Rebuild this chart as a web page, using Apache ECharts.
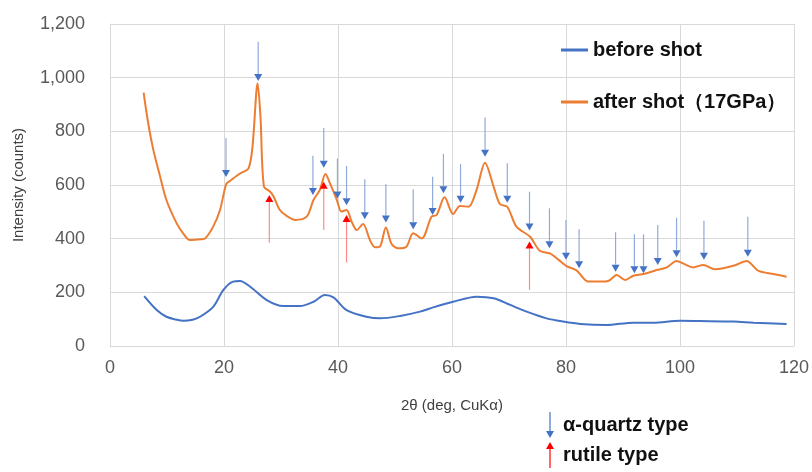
<!DOCTYPE html>
<html>
<head>
<meta charset="utf-8">
<script src="https://cdn.jsdelivr.net/npm/echarts@6/dist/echarts.min.js"></script>
<style>
  html, body { margin: 0; padding: 0; background: #fff; }
  #chart { width: 812px; height: 472px; }
</style>
</head>
<body>
<div id="chart"></div>
<script>
// XRD pattern
const afterX = [5.9, 6.7, 7.6, 8.8, 9.9, 11.7, 12.9, 14.0, 16.0, 16.7, 18.1, 19.3, 20.4, 21.1, 22.8, 24.3, 25.0, 25.9, 26.4, 27.0,
  28.1, 28.7, 29.8, 31.0, 32.5, 34.5, 35.7, 36.8, 37.8, 38.6, 39.8, 40.6, 41.5, 42.4, 43.3, 44.4, 45.6, 46.5, 47.4, 48.4,
  49.4, 50.6, 52.0, 53.2, 54.7, 56.4, 57.3, 58.7, 60.2, 61.4, 62.9, 64.3, 65.8, 67.3, 68.4, 69.7, 71.3, 73.7, 75.4, 77.2,
  78.7, 80.1, 81.9, 83.9, 86.0, 87.4, 88.9, 90.4, 91.8, 93.6, 95.9, 97.7, 99.4, 100.8, 102.3, 104.1, 106.1, 107.6, 109.8, 111.7,
  113.7, 116.4, 118.7];
const afterY = [944, 830, 731, 631, 544, 457, 418, 395, 398, 401, 445, 507, 604, 616, 643, 662, 743, 979, 855, 594,
  575, 557, 507, 485, 470, 482, 544, 581, 641, 606, 544, 501, 507, 463, 432, 455, 395, 368, 372, 442,
  380, 364, 370, 420, 401, 482, 488, 554, 492, 522, 519, 581, 683, 594, 529, 519, 445, 407, 355, 345,
  321, 298, 281, 240, 240, 242, 265, 246, 262, 268, 283, 293, 317, 305, 293, 302, 286, 290, 302, 317,
  281, 268, 258];

const beforeX = [6.0, 8.2, 9.9, 11.5, 12.9, 14.5, 15.8, 18.1, 19.9, 21.6, 22.8, 24.6, 27.5, 30.4, 33.3, 35.7, 37.7, 39.2, 41.5, 45.0,
  47.4, 50.9, 54.4, 56.7, 60.2, 64.3, 67.3, 70.2, 73.1, 76.6, 79.5, 82.5, 87.1, 91.8, 95.3, 100.0, 103.5, 109.4, 112.9, 118.7];
const beforeY = [186, 134, 109, 99, 94, 98, 109, 146, 209, 240, 242, 221, 171, 149, 149, 165, 190, 181, 134, 109,
  103, 112, 128, 144, 165, 184, 178, 153, 128, 103, 91, 82, 78, 87, 87, 94, 93, 91, 87, 82];

// peak markers: position, arrow tail, arrow tip
const quartzX = [20.35, 26.0, 35.6, 37.5, 39.9, 41.5, 44.7, 48.4, 53.2, 56.6, 58.5, 61.5, 65.8, 69.7, 73.6, 77.1, 80.0, 82.3,
  88.7, 92.0, 93.6, 96.1, 99.4, 104.2, 111.9];
const quartzTail = [775, 1134, 709, 812, 699, 671, 621, 603, 584, 631, 716, 678, 852, 681, 575, 513, 470, 435,
  424, 416, 416, 451, 478, 467, 482];
const quartzTip = [630, 988, 563, 664, 550, 525, 472, 460, 435, 488, 569, 534, 705, 534, 430, 364, 321, 290,
  277, 271, 271, 302, 331, 321, 333];

const rutileX = [27.95, 37.5, 41.5, 73.6];
const rutileTail = [385, 432, 311, 209];
const rutileTip = [563, 612, 488, 389];

const xTicks = { min: 0, max: 120, interval: 20 };
const yTicks = { min: 0, max: 1200, interval: 200 };

const zip = (xs, ys) => xs.map((x, i) => [x, ys[i]]);
const arrows = (xs, tails, tips) => xs.map((x, i) => [x, tails[i], tips[i]]);

function arrowItem(lineColor, headColor) {
  return function (params, api) {
    const x = api.value(0);
    const tail = api.coord([x, api.value(1)]);
    const tip = api.coord([x, api.value(2)]);
    const dir = tip[1] > tail[1] ? 1 : -1;
    const headH = 7;
    const headW = 4;
    return {
      type: 'group',
      children: [
        {
          type: 'line',
          shape: { x1: tail[0], y1: tail[1], x2: tip[0], y2: tip[1] - dir * headH },
          style: { stroke: lineColor, lineWidth: 1.2 },
        },
        {
          type: 'polygon',
          shape: {
            points: [
              [tip[0], tip[1]],
              [tip[0] - headW, tip[1] - dir * headH],
              [tip[0] + headW, tip[1] - dir * headH],
            ],
          },
          style: { fill: headColor },
        },
      ],
    };
  };
}

const labelFont = 'Liberation Sans, Arial, sans-serif';
const lineIcon = 'path://M0,0 H27 V3 H0 Z';

const option = {
  animation: false,
  backgroundColor: '#fff',
  grid: { left: 110, right: 18, top: 24, bottom: 126 },
  legend: [
    {
      data: [
        { name: 'before shot', icon: lineIcon },
        { name: 'after shot（17GPa）', icon: lineIcon },
      ],
      orient: 'vertical',
      left: 561,
      top: 40,
      padding: 0,
      itemWidth: 27,
      itemHeight: 3,
      itemGap: 32,
      textStyle: { fontFamily: labelFont, fontSize: 20, fontWeight: 'bold', color: '#111', lineHeight: 20 },
    },
    {
      data: [
        { name: 'α-quartz type', icon: 'path://M3.4,0 H4.6 V19 H8 L4,26 L0,19 H3.4 Z' },
        { name: 'rutile type', icon: 'path://M4,0 L8,7 H4.6 V26 H3.4 V7 H0 Z' },
      ],
      orient: 'vertical',
      left: 546,
      top: 412,
      padding: 0,
      itemWidth: 8,
      itemHeight: 28,
      itemGap: 4,
      textStyle: { fontFamily: labelFont, fontSize: 20, fontWeight: 'bold', color: '#111', padding: [0, 0, 0, 4] },
    },
  ],
  xAxis: {
    type: 'value',
    min: xTicks.min,
    max: xTicks.max,
    interval: xTicks.interval,
    name: '2θ (deg, CuKα)',
    nameLocation: 'middle',
    nameGap: 52,
    nameTextStyle: { fontFamily: labelFont, fontSize: 15, color: '#404040' },
    axisLine: { lineStyle: { color: '#d9d9d9' } },
    axisTick: { show: false },
    axisLabel: { margin: 13, fontFamily: labelFont, fontSize: 18, color: '#595959' },
    splitLine: { show: true, lineStyle: { color: '#d9d9d9' } },
  },
  yAxis: {
    type: 'value',
    min: yTicks.min,
    max: yTicks.max,
    interval: yTicks.interval,
    name: 'Intensity (counts)',
    nameLocation: 'middle',
    nameGap: 84,
    nameTextStyle: { fontFamily: labelFont, fontSize: 15, color: '#404040' },
    axisLine: { show: true, lineStyle: { color: '#d9d9d9' } },
    axisTick: { show: false },
    axisLabel: {
      margin: 25,
      fontFamily: labelFont,
      fontSize: 18,
      color: '#595959',
      formatter: (v) => v.toLocaleString('en-US'),
    },
    splitLine: { show: true, lineStyle: { color: '#d9d9d9' } },
  },
  series: [
    {
      name: 'before shot',
      type: 'line',
      smooth: 0.3,
      symbol: 'none',
      color: '#4472C4',
      lineStyle: { width: 2, color: '#4472C4' },
      data: zip(beforeX, beforeY),
      z: 3,
    },
    {
      name: 'after shot（17GPa）',
      type: 'line',
      smooth: 0.3,
      symbol: 'none',
      color: '#ED7D31',
      lineStyle: { width: 2, color: '#ED7D31' },
      data: zip(afterX, afterY),
      z: 3,
    },
    {
      name: 'α-quartz type',
      type: 'custom',
      renderItem: arrowItem('#8faadc', '#4472C4'),
      itemStyle: { color: '#4472C4' },
      encode: { x: 0, y: [1, 2] },
      data: arrows(quartzX, quartzTail, quartzTip),
      z: 4,
    },
    {
      name: 'rutile type',
      type: 'custom',
      renderItem: arrowItem('#ff8a8a', '#ff0000'),
      itemStyle: { color: '#ff0000' },
      encode: { x: 0, y: [1, 2] },
      data: arrows(rutileX, rutileTail, rutileTip),
      z: 5,
    },
  ],
};

const chart = echarts.init(document.getElementById('chart'));
chart.setOption(option);
</script>
</body>
</html>
